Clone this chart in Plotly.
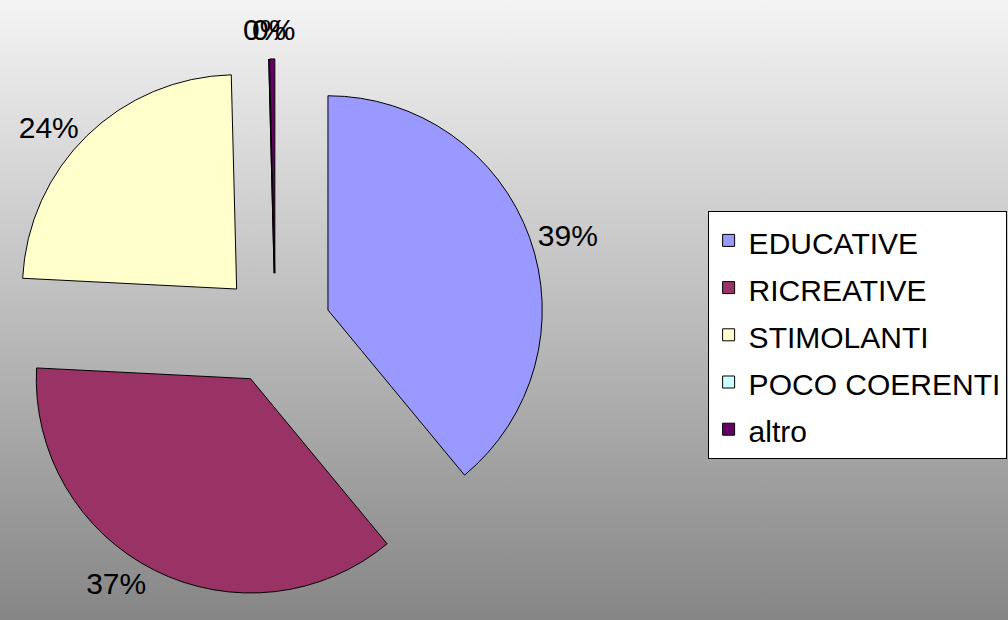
import base64
import plotly.graph_objects as go

categories = ["EDUCATIVE", "RICREATIVE", "STIMOLANTI", "POCO COERENTI", "altro"]
values = [39.0, 36.8, 23.8, 0.0, 0.4]
colors = ["#9999FF", "#993366", "#FFFFCC", "#CCFFFF", "#660066"]

svg = (
    '<svg xmlns="http://www.w3.org/2000/svg" width="1008" height="620" preserveAspectRatio="none">'
    '<defs><linearGradient id="g" x1="0" y1="0" x2="0" y2="1">'
    '<stop offset="0" stop-color="#f4f4f4"/><stop offset="1" stop-color="#868686"/>'
    '</linearGradient></defs><rect width="1008" height="620" fill="url(#g)"/></svg>'
)
bg = "data:image/svg+xml;base64," + base64.b64encode(svg.encode()).decode()

FONT = "Liberation Sans, Arial"
FS = 30
total = sum(values)
pct_text = [f"{round(100 * v / total)}%" for v in values]
text_pos = ["outside", "outside", "outside", "none", "none"]
legend_labels = [f"<span style='font-size:{FS}px'>{c}</span>" for c in categories]

fig = go.Figure(
    go.Pie(
        labels=legend_labels,
        values=values,
        customdata=categories,
        marker=dict(colors=colors, line=dict(color="black", width=1)),
        sort=False,
        direction="clockwise",
        rotation=0,
        pull=[0.26] * len(values),
        text=pct_text,
        texttemplate="%{text}",
        textposition=text_pos,
        outsidetextfont=dict(family=FONT, size=FS, color="black"),
        domain=dict(x=[0.0055, 0.5412], y=[0.034, 0.905]),
        hovertemplate="%{customdata}: %{percent}<extra></extra>",
        automargin=False,
    )
)

# the two "0%" labels of the zero/near-zero slices overlap at the top, as in the original
zero_annots = [
    dict(text=pct_text[3], xref="paper", yref="paper", x=0.2625, y=0.952,
         xanchor="center", yanchor="middle", showarrow=False,
         font=dict(family=FONT, size=FS, color="black")),
    dict(text=pct_text[4], xref="paper", yref="paper", x=0.2715, y=0.952,
         xanchor="center", yanchor="middle", showarrow=False,
         font=dict(family=FONT, size=FS, color="black")),
]

fig.update_layout(
    width=1008,
    height=620,
    margin=dict(l=0, r=0, t=0, b=0, pad=0, autoexpand=False),
    paper_bgcolor="#bdbdbd",
    plot_bgcolor="rgba(0,0,0,0)",
    font=dict(family=FONT, size=FS, color="black"),
    images=[dict(source=bg, xref="paper", yref="paper", x=0, y=1, sizex=1, sizey=1,
                 xanchor="left", yanchor="top", sizing="stretch", layer="below")],
    legend=dict(
        x=0.702, y=0.66, xanchor="left", yanchor="top",
        bgcolor="white", bordercolor="black", borderwidth=1,
        font=dict(family=FONT, size=34, color="black"),
        traceorder="normal",
    ),
    annotations=zero_annots,
    showlegend=True,
)

fig.write_html(
    "out.html",
    config=dict(displayModeBar=False),
    post_script="document.body.style.margin='0';document.body.style.overflow='hidden';",
)
